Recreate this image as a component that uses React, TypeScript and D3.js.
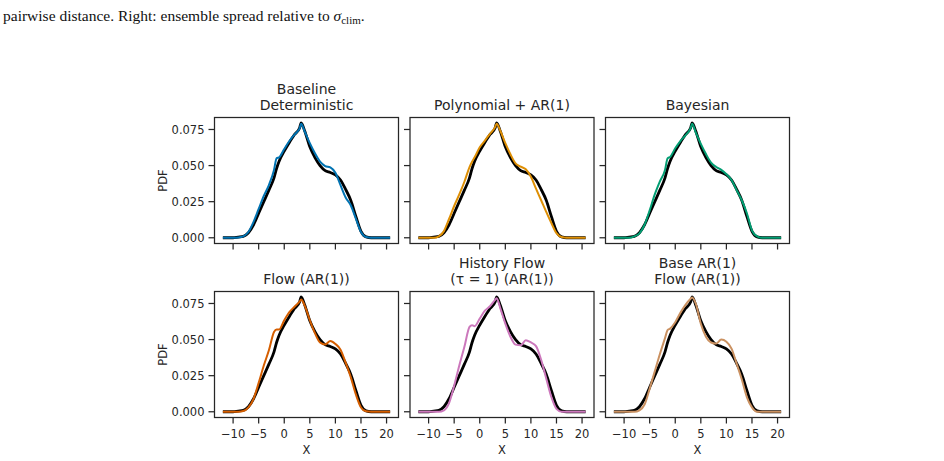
import React from 'react';
import * as d3 from 'd3';

// shared x grid of the density estimates
const xGrid = [-12, -10, -9, -8, -7, -6, -5, -4, -3, -2, -1.5, -1, 0, 1, 2, 3, 3.3, 4, 5, 6, 7, 8, 9, 10, 11, 12, 13, 14, 15, 16, 17, 20.7];

// reference (truth) PDF, black in every panel
const refPdf = [0, 0, 0.0005, 0.001, 0.0035, 0.009, 0.017, 0.025, 0.033, 0.0415, 0.048, 0.053, 0.06, 0.066, 0.0715, 0.076, 0.0796, 0.074, 0.063, 0.0555, 0.05, 0.0465, 0.0452, 0.0435, 0.04, 0.0335, 0.026, 0.0148, 0.0045, 0.0006, 0, 0];

const baselinePdf = [0, 0, 0.0002, 0.001, 0.004, 0.011, 0.02, 0.029, 0.0365, 0.047, 0.055, 0.0557, 0.0615, 0.067, 0.0715, 0.0757, 0.079, 0.0736, 0.0655, 0.0585, 0.0527, 0.0497, 0.0487, 0.045, 0.0364, 0.0279, 0.0225, 0.0132, 0.004, 0.0005, 0, 0];
const polyPdf = [0, 0, 0, 0.001, 0.0046, 0.013, 0.022, 0.03, 0.0388, 0.049, 0.0527, 0.0557, 0.0627, 0.0673, 0.072, 0.0766, 0.079, 0.0743, 0.0655, 0.0578, 0.0515, 0.0492, 0.0474, 0.0422, 0.034, 0.026, 0.0179, 0.0102, 0.0032, 0.0005, 0, 0];
const bayesPdf = [0, 0, 0, 0.001, 0.003, 0.009, 0.019, 0.03, 0.039, 0.047, 0.055, 0.056, 0.062, 0.067, 0.071, 0.076, 0.079, 0.073, 0.065, 0.058, 0.052, 0.049, 0.047, 0.044, 0.04, 0.033, 0.026, 0.017, 0.005, 0.001, 0, 0];
const flowPdf = [0, 0, 0, 0.0005, 0.003, 0.009, 0.02, 0.032, 0.0426, 0.0553, 0.057, 0.057, 0.0634, 0.069, 0.0727, 0.0763, 0.0777, 0.0735, 0.0634, 0.0545, 0.048, 0.0466, 0.049, 0.047, 0.043, 0.034, 0.024, 0.012, 0.003, 0.0003, 0, 0];
const historyPdf = [0, 0, 0, 0, 0.001, 0.006, 0.018, 0.032, 0.045, 0.0588, 0.06, 0.0593, 0.0646, 0.07, 0.0731, 0.0775, 0.0787, 0.072, 0.061, 0.052, 0.0465, 0.046, 0.0495, 0.048, 0.0455, 0.036, 0.023, 0.0102, 0.002, 0, 0, 0];
const baseArPdf = [0, 0, 0, 0, 0.001, 0.005, 0.016, 0.028, 0.04, 0.051, 0.0565, 0.0576, 0.062, 0.0685, 0.074, 0.0783, 0.0792, 0.075, 0.061, 0.052, 0.048, 0.0472, 0.05, 0.0485, 0.0437, 0.0333, 0.0225, 0.0102, 0.003, 0, 0, 0];

const panelTitles = [
  ['Baseline', 'Deterministic'],
  ['Polynomial + AR(1)'],
  ['Bayesian'],
  ['Flow (AR(1))'],
  ['History Flow', '(τ = 1) (AR(1))'],
  ['Base AR(1)', 'Flow (AR(1))'],
];
const panelSeries = [baselinePdf, polyPdf, bayesPdf, flowPdf, historyPdf, baseArPdf];
const panelColors = ['#0173B2', '#DE8F05', '#029E73', '#D55E00', '#CC78BC', '#CA9161'];

const xTicks = [-10, -5, 0, 5, 10, 15, 20];
const yTicks = [0, 0.025, 0.05, 0.075];

const W = 944;
const H = 461;
const colX = [214.5, 410, 605.5];
const rowY = [117.5, 291.5];
const pw = 184;
const ph = 126;
const ink = '#262626';
const sans = 'DejaVu Sans, sans-serif';

const x = d3.scaleLinear().domain([-13.635, 22.335]).range([0, pw]);
const y = d3.scaleLinear().domain([-0.00397, 0.0833]).range([ph, 0]);
const line = d3.line<number>()
  .x((d, i) => x(xGrid[i]))
  .y(d => y(d))
  .curve(d3.curveMonotoneX);

const fmtX = (v: number) => (v < 0 ? '\u2212' + Math.abs(v) : String(v));

const Panel = ({ idx }: { idx: number }) => {
  const col = idx % 3;
  const row = Math.floor(idx / 3);
  const title = panelTitles[idx];
  return (
    <g transform={`translate(${colX[col]},${rowY[row]})`}>
      {title.map((t, i) => (
        <text key={i} x={pw / 2} y={-8 - (title.length - 1 - i) * 16} textAnchor="middle"
          fontFamily={sans} fontSize={14} fill={ink}>{t}</text>
      ))}
      <path d={line(refPdf) || ''} fill="none" stroke="#000" strokeWidth={2.8} strokeLinejoin="round" />
      <path d={line(panelSeries[idx]) || ''} fill="none" stroke={panelColors[idx]} strokeWidth={2} strokeLinejoin="round" />
      <rect x={0} y={0} width={pw} height={ph} fill="none" stroke={ink} strokeWidth={1.25} />
      {yTicks.map(t => (
        <g key={t} transform={`translate(0,${y(t)})`}>
          <line x1={-6} x2={0} stroke={ink} strokeWidth={1.25} />
          {col === 0 && (
            <text x={-10} dy="0.35em" textAnchor="end" fontFamily={sans} fontSize={11.5} fill={ink}>
              {t.toFixed(3)}
            </text>
          )}
        </g>
      ))}
      {xTicks.map(t => (
        <g key={t} transform={`translate(${x(t)},${ph})`}>
          <line y1={0} y2={6} stroke={ink} strokeWidth={1.25} />
          {row === 1 && (
            <text y={20.5} textAnchor="middle" fontFamily={sans} fontSize={11.5} fill={ink}>{fmtX(t)}</text>
          )}
        </g>
      ))}
      {row === 1 && (
        <text x={pw / 2} y={ph + 36.5} textAnchor="middle" fontFamily={sans} fontSize={11.5} fill={ink}>X</text>
      )}
      {col === 0 && (
        <text transform={`translate(${-52},${ph / 2}) rotate(-90)`} textAnchor="middle" dy="0.35em"
          fontFamily={sans} fontSize={11.5} fill={ink}>PDF</text>
      )}
    </g>
  );
};

export default function App() {
  return (
    <div style={{ position: 'absolute', left: 0, top: 0, width: W, height: H, background: '#fff' }}>
      <svg width={W} height={H} viewBox={`0 0 ${W} ${H}`}>
        <rect width={W} height={H} fill="#fff" />
        <text x={3} y={21} fontFamily="Liberation Serif, serif" fontSize={15.5} fill="#111">
          pairwise distance. Right: ensemble spread relative to{' '}
          <tspan fontStyle="italic">σ</tspan>
          <tspan fontSize={11} dy={3}>clim</tspan>
          <tspan dy={-3}>.</tspan>
        </text>
        {panelSeries.map((_, i) => <Panel key={i} idx={i} />)}
      </svg>
    </div>
  );
}
